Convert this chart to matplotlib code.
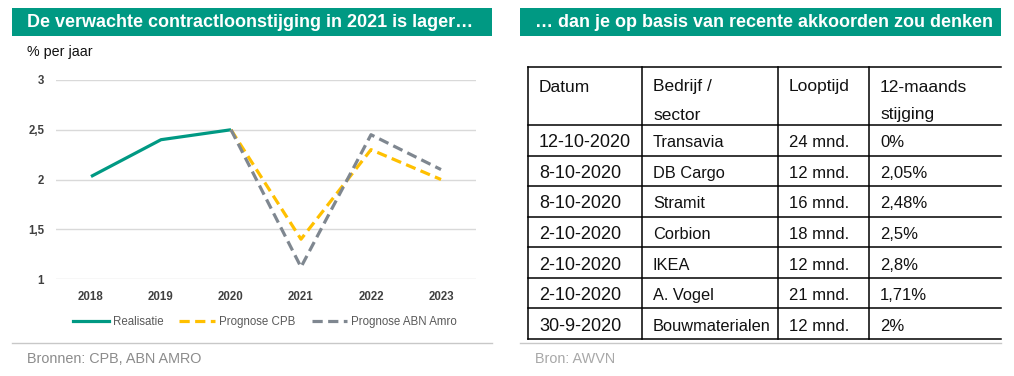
import matplotlib.pyplot as plt
from matplotlib.lines import Line2D
from matplotlib.patches import Rectangle

plt.rcParams['font.family'] = ['Liberation Sans', 'DejaVu Sans']

# Data links: contractloonstijging
jaren = ['2018', '2019', '2020', '2021', '2022', '2023']
realisatie = [2.03, 2.4, 2.5, None, None, None]
prognose_cpb = [None, None, 2.5, 1.4, 2.3, 2.0]
prognose_abn = [None, None, 2.5, 1.12, 2.45, 2.1]
yticks = [1, 1.5, 2, 2.5, 3]

# Data rechts: recente akkoorden
kolommen = [['Datum'], ['Bedrijf /', 'sector'], ['Looptijd'], ['12-maands', 'stijging']]
datums = ['12-10-2020', '8-10-2020', '8-10-2020', '2-10-2020', '2-10-2020', '2-10-2020', '30-9-2020']
bedrijven = ['Transavia', 'DB Cargo', 'Stramit', 'Corbion', 'IKEA', 'A. Vogel', 'Bouwmaterialen']
looptijden = ['24 mnd.', '12 mnd.', '16 mnd.', '18 mnd.', '12 mnd.', '21 mnd.', '12 mnd.']
stijgingen = ['0%', '2,05%', '2,48%', '2,5%', '2,8%', '1,71%', '2%']

TEAL = '#009983'
YELLOW = '#FFC000'
GREY = '#7F8790'

W, H = 1014, 376
fig = plt.figure(figsize=(W / 100, H / 100), dpi=100)

# overlay in pixel coordinates for boxes, table and captions
ov = fig.add_axes([0, 0, 1, 1])
ov.set_xlim(0, W)
ov.set_ylim(H, 0)
ov.axis('off')

# title bars
ov.add_patch(Rectangle((12, 8), 480, 28, color=TEAL, lw=0))
ov.text(27, 22.5, 'De verwachte contractloonstijging in 2021 is lager…', color='white',
        fontsize=13, fontweight='bold', va='center', ha='left')
ov.add_patch(Rectangle((520, 8), 481, 28, color=TEAL, lw=0))
ov.text(535, 22.5, '… dan je op basis van recente akkoorden zou denken', color='white',
        fontsize=12.95, fontweight='bold', va='center', ha='left')

ov.text(27, 52, '% per jaar', fontsize=10.3, va='center', ha='left', color='#111111')

# separators and sources
ov.plot([12, 492], [343, 343], color='#c8c8c8', lw=1)
ov.plot([520, 1001], [343, 343], color='#c8c8c8', lw=1)
ov.text(27, 359, 'Bronnen: CPB, ABN AMRO', fontsize=10.4, color='#8c8c8c', va='center')
ov.text(535, 359, 'Bron: AWVN', fontsize=10.4, color='#a8a8a8', va='center')

# line chart
ax = fig.add_axes([56 / W, (H - 279) / H, 420 / W, 199 / H])
x = range(len(jaren))
ax.plot(x, realisatie, color=TEAL, lw=2.3, solid_capstyle='butt', zorder=3)
ax.plot(x, prognose_cpb, color=YELLOW, lw=2.3, dashes=(3.2, 1.7), zorder=3)
ax.plot(x, prognose_abn, color=GREY, lw=2.3, dashes=(3.2, 1.7), zorder=4)
ax.set_xlim(-0.5, len(jaren) - 0.5)
ax.set_ylim(1, 3)
ax.set_xticks(list(x))
ax.set_xticklabels(jaren, fontsize=8.3, fontweight='bold', color='#404040')
ax.set_yticks(yticks)
ax.set_yticklabels([f'{v:g}'.replace('.', ',') for v in yticks],
                   fontsize=8.3, fontweight='bold', color='#404040')
ax.tick_params(length=0)
ax.tick_params(axis='x', pad=8.5)
ax.tick_params(axis='y', pad=8.5)
ax.grid(axis='y', color='#d9d9d9', lw=1)
ax.set_axisbelow(True)
for s in ax.spines.values():
    s.set_visible(False)
ax.patch.set_alpha(0)

handles = [Line2D([], [], color=TEAL, lw=2.3),
           Line2D([], [], color=YELLOW, lw=2.3, dashes=(3.2, 1.7)),
           Line2D([], [], color=GREY, lw=2.3, dashes=(3.2, 1.7))]
fig.legend(handles, ['Realisatie', 'Prognose CPB', 'Prognose ABN Amro'],
           loc='center', bbox_to_anchor=(265 / W, (H - 322) / H), ncol=3,
           frameon=False, fontsize=8.3, handlelength=3.1, handletextpad=0.35,
           columnspacing=1.4, labelcolor='#595959')

# table
col_x = [528, 642, 778, 869]
right = 1001
top, head_bottom, bottom = 67, 125, 339
n = len(datums)
row_h = (bottom - head_bottom) / n
lines_y = [top, head_bottom] + [head_bottom + row_h * (i + 1) for i in range(n)]
for yl in lines_y:
    ov.plot([col_x[0], right], [yl, yl], color='black', lw=1.1)
for xc in col_x:
    ov.plot([xc, xc], [top, bottom], color='black', lw=1.1)

for xc, kop in zip(col_x, kolommen):
    for j, t in enumerate(kop):
        ov.text(xc + 11, 87 + 28 * j, t, fontsize=12.5, va='center', ha='left', color='#111111')

sizes = [13.0, 11.8, 12, 12]
for i in range(n):
    yc = head_bottom + row_h * (i + 0.5) + 2.5
    for xc, vals, fs in zip(col_x, [datums, bedrijven, looptijden, stijgingen], sizes):
        ov.text(xc + 11, yc, vals[i], fontsize=fs, va='center', ha='left', color='#111111')

fig.savefig('out.png', dpi=100)
